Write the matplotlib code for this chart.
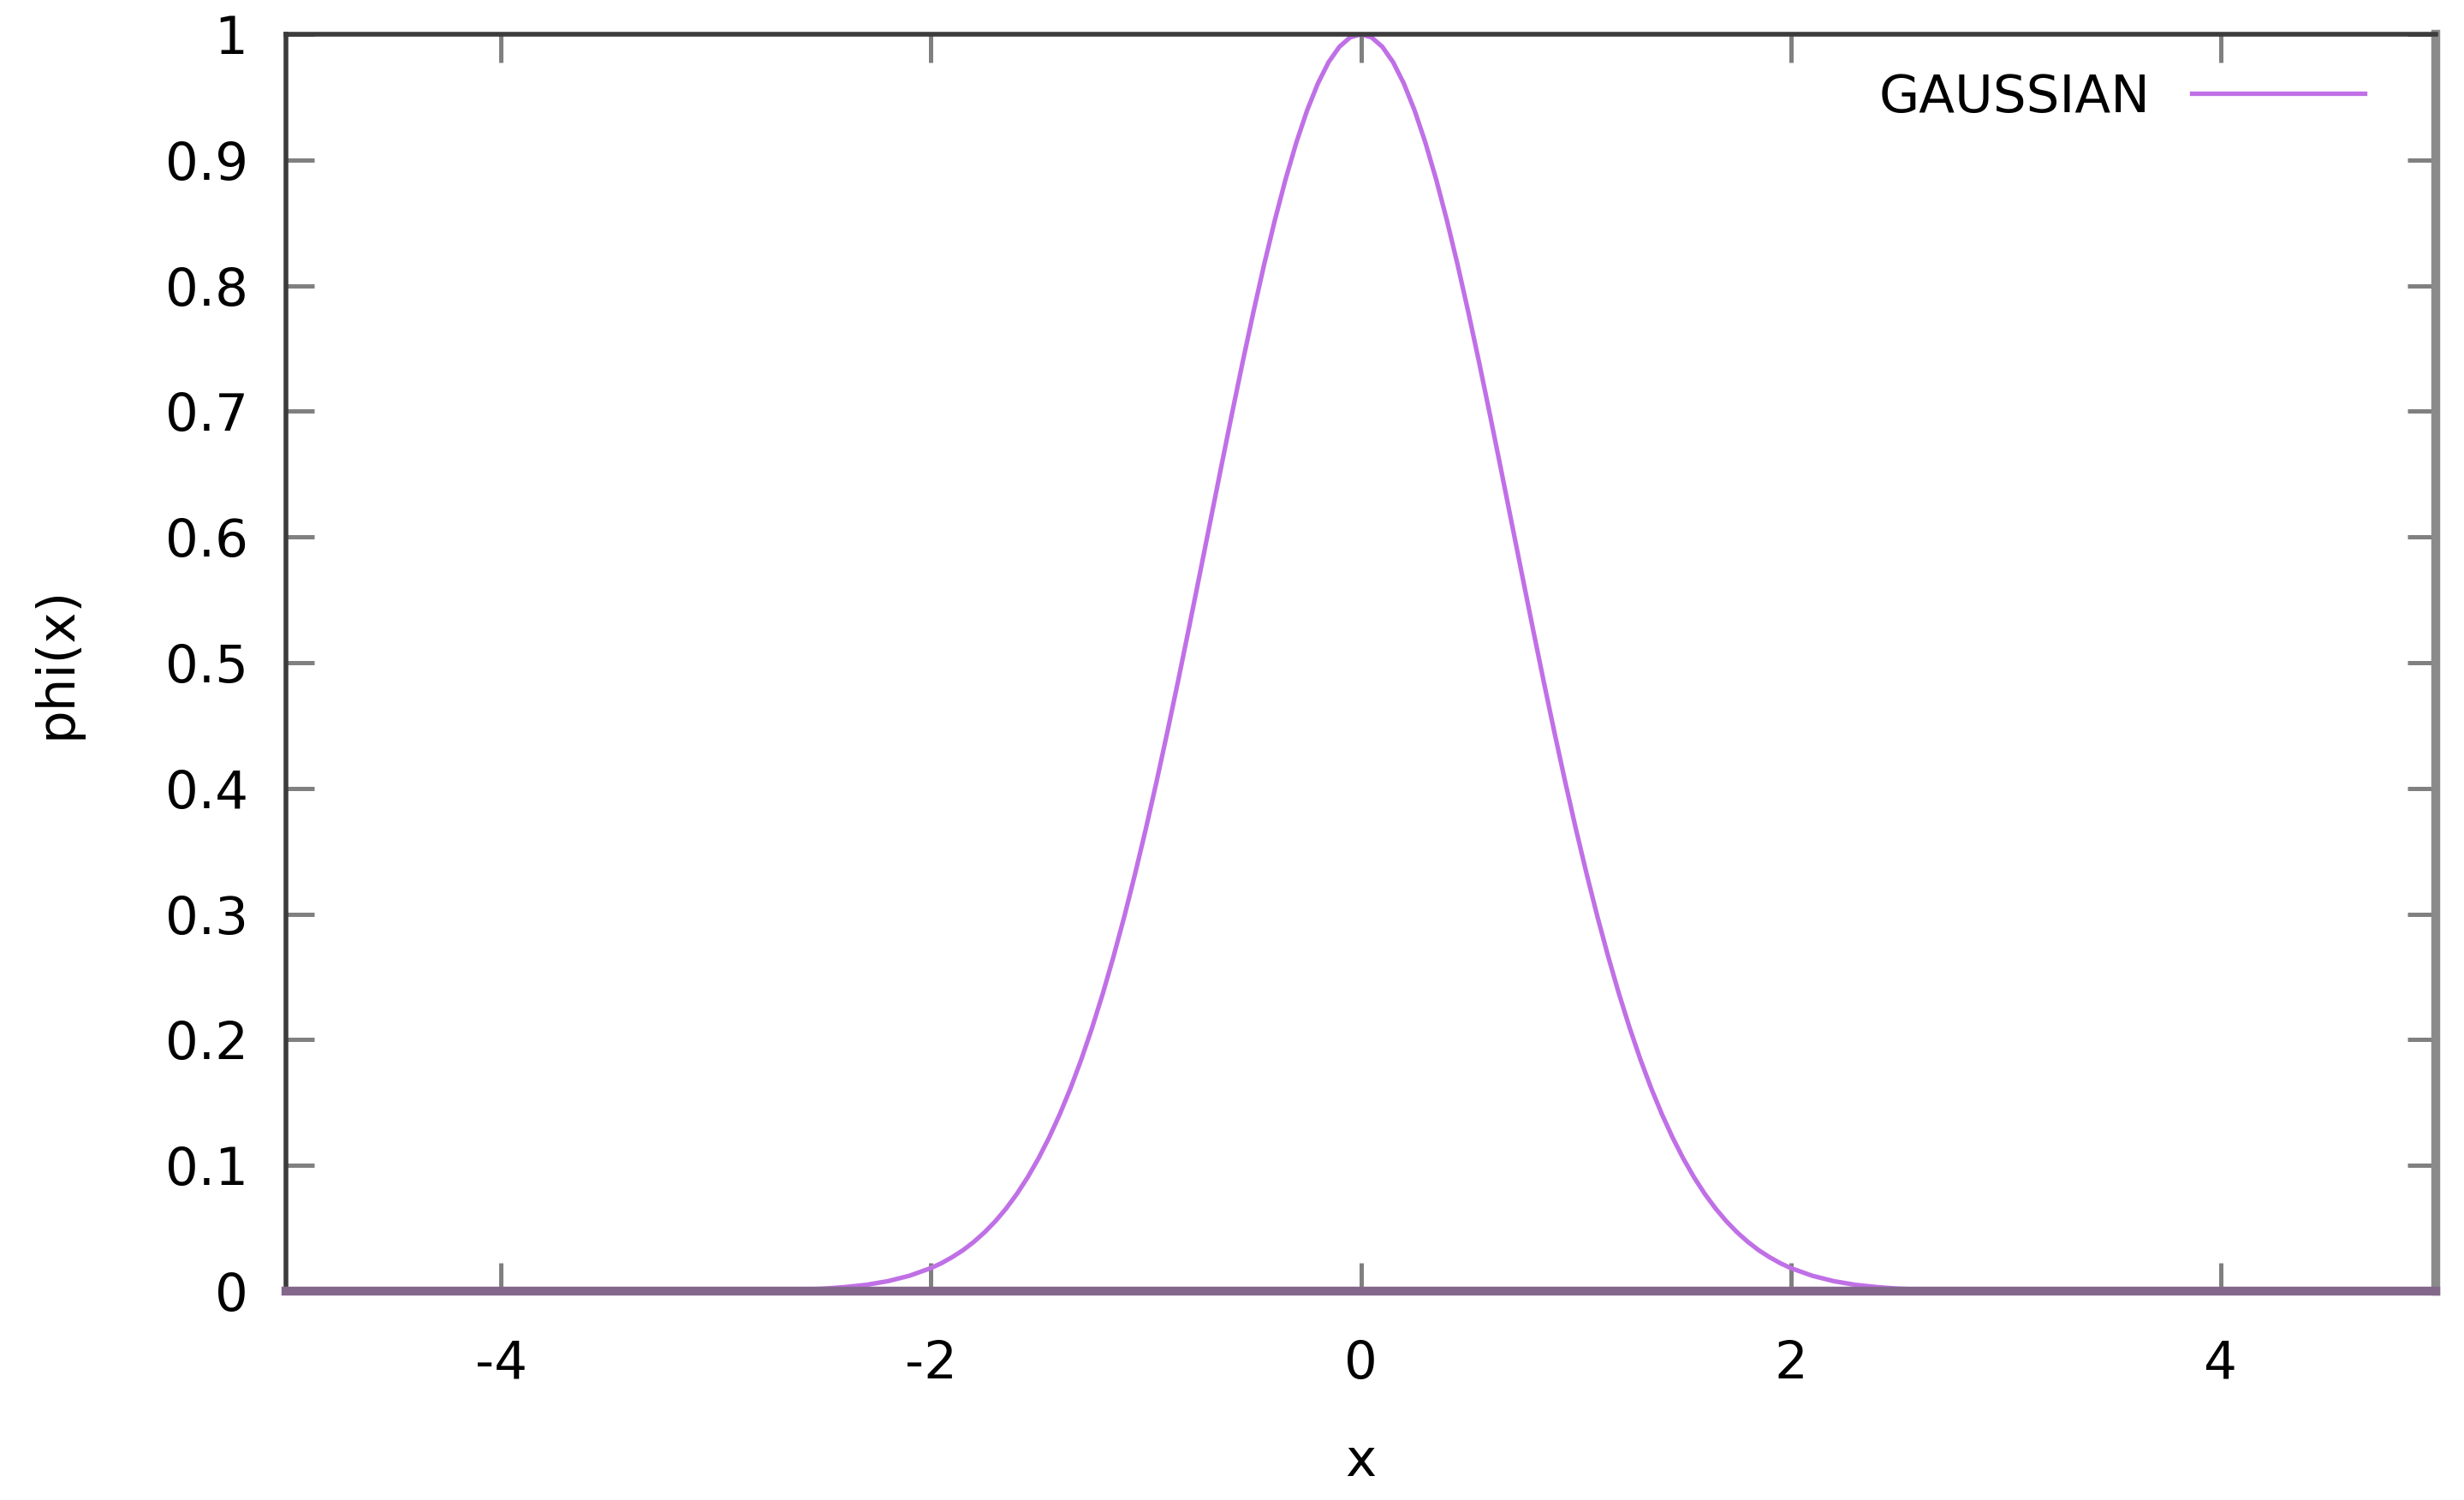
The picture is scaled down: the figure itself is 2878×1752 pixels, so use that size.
import matplotlib
matplotlib.use("Agg")
import matplotlib.pyplot as plt

# values
x_vals = [-5.0, -4.0, -3.0, -2.7, -2.5, -2.4, -2.3, -2.2, -2.1, -2.0,
          -1.95, -1.9, -1.85, -1.8, -1.75, -1.7, -1.65, -1.6, -1.55, -1.5,
          -1.45, -1.4, -1.35, -1.3, -1.25, -1.2, -1.15, -1.1, -1.05, -1.0,
          -0.95, -0.9, -0.85, -0.8, -0.75, -0.7, -0.65, -0.6, -0.55, -0.5,
          -0.45, -0.4, -0.35, -0.3, -0.25, -0.2, -0.15, -0.1, -0.05, 0.0,
          0.05, 0.1, 0.15, 0.2, 0.25, 0.3, 0.35, 0.4, 0.45, 0.5,
          0.55, 0.6, 0.65, 0.7, 0.75, 0.8, 0.85, 0.9, 0.95, 1.0,
          1.05, 1.1, 1.15, 1.2, 1.25, 1.3, 1.35, 1.4, 1.45, 1.5,
          1.55, 1.6, 1.65, 1.7, 1.75, 1.8, 1.85, 1.9, 1.95, 2.0,
          2.1, 2.2, 2.3, 2.4, 2.5, 2.7, 3.0, 4.0, 5.0]
phi_vals = [0.0000, 0.0000, 0.0001, 0.0007, 0.0019, 0.0032, 0.0050, 0.0079, 0.0122, 0.0183,
            0.0223, 0.0271, 0.0326, 0.0392, 0.0468, 0.0556, 0.0657, 0.0773, 0.0905, 0.1054,
            0.1222, 0.1409, 0.1616, 0.1845, 0.2096, 0.2369, 0.2665, 0.2982, 0.3321, 0.3679,
            0.4056, 0.4449, 0.4855, 0.5273, 0.5698, 0.6126, 0.6554, 0.6977, 0.7390, 0.7788,
            0.8167, 0.8521, 0.8847, 0.9139, 0.9394, 0.9608, 0.9778, 0.9900, 0.9975, 1.0000,
            0.9975, 0.9900, 0.9778, 0.9608, 0.9394, 0.9139, 0.8847, 0.8521, 0.8167, 0.7788,
            0.7390, 0.6977, 0.6554, 0.6126, 0.5698, 0.5273, 0.4855, 0.4449, 0.4056, 0.3679,
            0.3321, 0.2982, 0.2665, 0.2369, 0.2096, 0.1845, 0.1616, 0.1409, 0.1222, 0.1054,
            0.0905, 0.0773, 0.0657, 0.0556, 0.0468, 0.0392, 0.0326, 0.0271, 0.0223, 0.0183,
            0.0122, 0.0079, 0.0050, 0.0032, 0.0019, 0.0007, 0.0001, 0.0000, 0.0000]
series_label = "GAUSSIAN"
x_ticks = [-4, -2, 0, 2, 4]
y_ticks = [0, 0.1, 0.2, 0.3, 0.4, 0.5, 0.6, 0.7, 0.8, 0.9, 1]
y_tick_labels = ["0", "0.1", "0.2", "0.3", "0.4", "0.5", "0.6", "0.7", "0.8", "0.9", "1"]
x_tick_labels = ["-4", "-2", "0", "2", "4"]

plt.rcParams['font.family'] = ['DejaVu Sans']
plt.rcParams['axes.unicode_minus'] = False

W, H = 2878, 1752
fig = plt.figure(figsize=(W / 100, H / 100), dpi=100)
L, R, T, B = 334, 2845, 40, 1508
ax = fig.add_axes([L / W, 1 - B / H, (R - L) / W, (B - T) / H])

FS = 44
curve_color = "#c070e6"
ax.plot(x_vals, phi_vals, color=curve_color, lw=3.8, label=series_label, zorder=2,
        solid_joinstyle="round")

ax.set_xlim(-5, 5)
ax.set_ylim(0, 1)
ax.set_xticks(x_ticks)
ax.set_xticklabels(x_tick_labels)
ax.set_yticks(y_ticks)
ax.set_yticklabels(y_tick_labels)

ax.tick_params(axis="both", direction="in", length=24, width=3.6, color="#808080",
               labelsize=FS, labelcolor="black", top=True, right=True)
ax.tick_params(axis="x", pad=40)
ax.tick_params(axis="y", pad=32)

for s in ("left", "top"):
    ax.spines[s].set_color("#3c3c3c")
    ax.spines[s].set_linewidth(4)
ax.spines["right"].set_color("#8a8a8a")
ax.spines["right"].set_linewidth(7.5)
ax.spines["bottom"].set_color("#84688c")
ax.spines["bottom"].set_linewidth(7.5)
for s in ax.spines.values():
    s.set_zorder(3)

ax.set_xlabel("x", fontsize=FS, va="center")
ax.set_ylabel("phi(x)", fontsize=FS, va="center")
ax.xaxis.set_label_coords((866 * 2878 / 1568 - L) / (R - L), (B - 1707) / (B - T))
ax.yaxis.set_label_coords((66 - L) / (R - L), 0.5)

leg = ax.legend(loc="center right", bbox_to_anchor=((2762 - L) / (R - L), (B - 114) / (B - T)),
                frameon=False, fontsize=FS, markerfirst=False, handlelength=3.3,
                handletextpad=0.8, borderpad=0, borderaxespad=0)

fig.savefig("out.png", dpi=100, facecolor="white")
